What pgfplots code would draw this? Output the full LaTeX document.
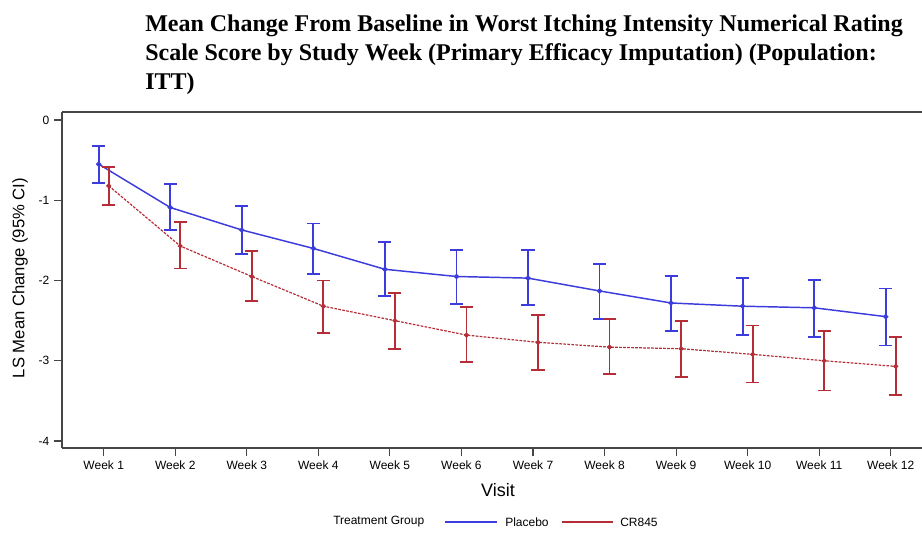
\documentclass[border=0pt]{standalone}
\usepackage{fontspec}
\setmainfont{Liberation Serif}
\setsansfont{Liberation Sans}
\usepackage{pgfplots}
\pgfplotsset{compat=1.18}
\usepackage{pgfplotstable}
\definecolor{pbo}{RGB}{60,60,220}
\definecolor{crc}{RGB}{180,45,55}
\definecolor{axc}{RGB}{70,70,70}

\pgfplotstableread{
w y lo hi
1 -0.55 -0.785 -0.32
2 -1.09 -1.37 -0.80
3 -1.37 -1.67 -1.075
4 -1.60 -1.92 -1.29
5 -1.86 -2.19 -1.52
6 -1.95 -2.29 -1.62
7 -1.97 -2.31 -1.62
8 -2.13 -2.48 -1.79
9 -2.28 -2.63 -1.94
10 -2.32 -2.68 -1.97
11 -2.34 -2.70 -1.99
12 -2.45 -2.81 -2.10
}\placebo

\pgfplotstableread{
w y lo hi
1 -0.82 -1.06 -0.58
2 -1.57 -1.85 -1.27
3 -1.95 -2.26 -1.63
4 -2.32 -2.65 -2.00
5 -2.50 -2.85 -2.16
6 -2.68 -3.02 -2.33
7 -2.77 -3.12 -2.43
8 -2.83 -3.17 -2.48
9 -2.85 -3.20 -2.50
10 -2.92 -3.27 -2.56
11 -3.00 -3.37 -2.63
12 -3.07 -3.43 -2.70
}\crdata

\begin{document}
\begin{tikzpicture}
\useasboundingbox (-46.5pt,-63.75pt) rectangle (645pt,336pt);
\begin{axis}[
  at={(0pt,0pt)}, anchor=south west,
  scale only axis, width=645pt, height=252pt,
  xmin=0.417, xmax=12.437, ymin=-4.087, ymax=0.1,
  axis lines*=left,
  axis line style={axc, line width=1.1pt},
  tick style={axc, line width=0.8pt},
  tick align=outside, major tick length=6pt,
  xtick={1,...,12},
  xticklabels={Week 1,Week 2,Week 3,Week 4,Week 5,Week 6,Week 7,Week 8,Week 9,Week 10,Week 11,Week 12},
  ytick={-4,-3,-2,-1,0},
  yticklabels={-4,-3,-2,-1,0},
  tick label style={font=\sffamily\fontsize{9}{10}\selectfont, text=black},
]
\draw[axc, line width=1.1pt] (rel axis cs:0,1) -- (rel axis cs:1,1);
\addplot[pbo, line width=1.1pt, mark=*, mark size=1.4pt,
  error bars/.cd, y dir=both, y explicit,
  error bar style={pbo, line width=1.4pt},
  error mark options={pbo, mark size=4.9pt, line width=1.4pt, rotate=90}]
  table[x expr=\thisrow{w}-0.07, y=y,
        y error plus expr=\thisrow{hi}-\thisrow{y},
        y error minus expr=\thisrow{y}-\thisrow{lo}] {\placebo};
\addplot[crc, line width=0.9pt, dash pattern=on 2pt off 1pt, mark=*, mark size=1.4pt, mark options={solid},
  error bars/.cd, y dir=both, y explicit,
  error bar style={crc, solid, line width=1.4pt},
  error mark options={crc, solid, mark size=4.9pt, line width=1.4pt, rotate=90}]
  table[x expr=\thisrow{w}+0.07, y=y,
        y error plus expr=\thisrow{hi}-\thisrow{y},
        y error minus expr=\thisrow{y}-\thisrow{lo}] {\crdata};
\end{axis}
\begin{scope}[every node/.style={inner sep=0pt}]
\node[anchor=base west, font=\bfseries\fontsize{18}{21}\selectfont] at (62.25pt,312.5pt) {Mean Change From Baseline in Worst Itching Intensity Numerical Rating};
\node[anchor=base west, font=\bfseries\fontsize{18}{21}\selectfont] at (62.25pt,290.75pt) {Scale Score by Study Week (Primary Efficacy Imputation) (Population:};
\node[anchor=base west, font=\bfseries\fontsize{18}{21}\selectfont] at (62.25pt,269pt) {ITT)};
\node[font=\sffamily\fontsize{13.5}{15}\selectfont] at (327pt,-31.5pt) {Visit};
\node[rotate=90, font=\sffamily\fontsize{12.5}{14}\selectfont] at (-31.5pt,127.5pt) {LS Mean Change (95\% CI)};
\node[anchor=west, font=\sffamily\fontsize{9}{10}\selectfont] at (203.25pt,-55.5pt) {Treatment Group};
\draw[pbo, line width=1.1pt] (287.25pt,-55.5pt) -- (326.25pt,-55.5pt);
\node[anchor=west, font=\sffamily\fontsize{9}{10}\selectfont] at (332.25pt,-55.5pt) {Placebo};
\draw[crc, line width=1.1pt] (375pt,-55.5pt) -- (413.25pt,-55.5pt);
\node[anchor=west, font=\sffamily\fontsize{9}{10}\selectfont] at (418.5pt,-55.5pt) {CR845};
\end{scope}
\end{tikzpicture}
\end{document}
